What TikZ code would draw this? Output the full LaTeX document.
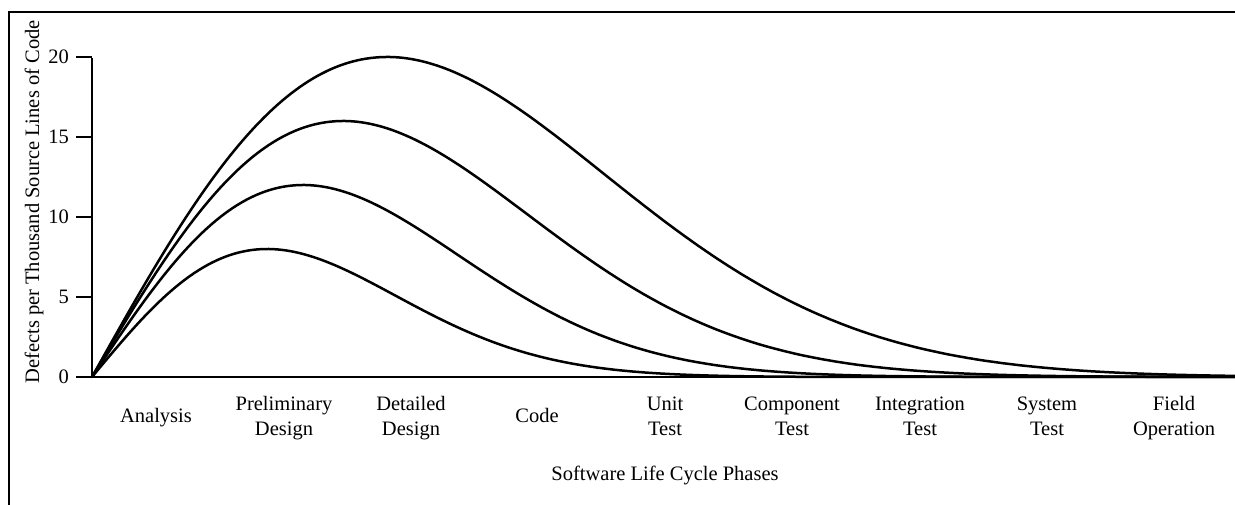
\documentclass[tikz,border=0pt]{standalone}
\usepackage{fontspec}
\setmainfont{Liberation Serif}
\begin{document}
\begin{tikzpicture}[x=1pt,y=-1pt,
  frame/.style={line width=2pt},
  axis/.style={line width=2.8pt},
  curve/.style={line width=2.5pt,line join=round,line cap=round},
  lbl/.style={inner sep=0pt,font=\fontsize{20.5}{25}\selectfont},
  phase/.style={lbl,align=center,anchor=base}]
\useasboundingbox (0,0) rectangle (1235,504);
\fill[white] (0,0) rectangle (1235,504);
% outer frame (left and top edges)
\draw[frame] (9,506) -- (9,12) -- (1237,12);

% axes and ticks
\coordinate (O) at (92,377);
\coordinate (Ytop) at (92,58);
\coordinate (Xend) at (1237,377);
\draw[axis] (76,377) -- (Xend);
\draw[axis] (O) -- (Ytop);
\foreach \v in {5,10,15,20}
  \draw[axis] (76,{377-16*\v}) -- (92,{377-16*\v});
\foreach \v in {0,5,10,15,20}
  \node[lbl,anchor=east] (tick\v) at (69,{377-16*\v}) {\v};

% defect discovery curves (Rayleigh profiles)
\foreach \P/\s in {20/295,16/251,12/211,8/175}
  \draw[curve] plot[domain=0:1145,samples=260]
    ({92+\x},{377-16*\P*(\x/\s)*exp(0.5*(1-(\x/\s)*(\x/\s)))});

% axis titles
\node[lbl,rotate=90,anchor=base] (ytitle) at (39,202)
  {Defects per Thousand Source Lines of Code};
\node[lbl,anchor=base] (xtitle) at (665,480) {Software Life Cycle Phases};

% phase labels (baseline of the last line)
\node[phase] (p1) at (156,422) {Analysis};
\node[phase] (p2) at (284,435) {Preliminary\\Design};
\node[phase] (p3) at (411,435) {Detailed\\Design};
\node[phase] (p4) at (537,422) {Code};
\node[phase] (p5) at (665,435) {Unit\\Test};
\node[phase] (p6) at (792,435) {Component\\Test};
\node[phase] (p7) at (920,435) {Integration\\Test};
\node[phase] (p8) at (1047,435) {System\\Test};
\node[phase] (p9) at (1174,435) {Field\\Operation};
\end{tikzpicture}
\end{document}
